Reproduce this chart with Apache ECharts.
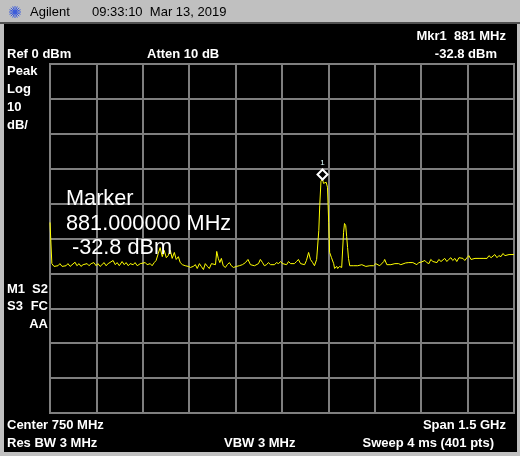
<!DOCTYPE html>
<html>
<head>
<meta charset="utf-8">
<title>Agilent spectrum</title>
<script src="https://cdn.jsdelivr.net/npm/echarts@6/dist/echarts.min.js"></script>
<style>
  html, body { margin: 0; padding: 0; background: #000; }
  #main { width: 520px; height: 456px; }
</style>
</head>
<body>
<div id="main"></div>
<script>
// trace: frequency (MHz) and level (dBm)
var freqMHz = [
  0, 6, 13, 19, 26, 32, 39, 45, 52, 58,
  65, 71, 81, 87, 94, 100, 107, 113, 120, 126,
  133, 142, 149, 155, 162, 168, 175, 181, 188, 194,
  204, 211, 217, 224, 233, 240, 246, 253, 259, 269,
  275, 282, 292, 298, 308, 314, 324, 330, 337, 343,
  350, 356, 363, 369, 376, 382, 389, 395, 402, 408,
  415, 421, 428, 437, 447, 454, 463, 470, 476, 483,
  489, 496, 502, 509, 515, 522, 528, 535, 539, 544,
  549, 554, 560, 567, 573, 580, 586, 593, 603, 612,
  622, 632, 640, 648, 654, 661, 667, 674, 680, 687,
  693, 700, 706, 713, 719, 726, 732, 739, 745, 752,
  758, 765, 771, 778, 784, 790, 797, 803, 810, 816,
  823, 829, 836, 842, 849, 855, 862, 865, 869, 872,
  876, 881, 884, 888, 893, 897, 901, 904, 910, 917,
  920, 927, 930, 936, 943, 946, 949, 952, 956, 959,
  962, 965, 969, 975, 982, 988, 995, 1001, 1008, 1014,
  1021, 1027, 1034, 1040, 1046, 1053, 1059, 1066, 1072, 1079,
  1082, 1089, 1095, 1102, 1108, 1115, 1121, 1127, 1134, 1140,
  1150, 1160, 1166, 1173, 1179, 1186, 1192, 1199, 1205, 1212,
  1218, 1225, 1231, 1238, 1244, 1251, 1257, 1264, 1270, 1276,
  1283, 1289, 1296, 1302, 1309, 1315, 1322, 1328, 1335, 1341,
  1348, 1354, 1361, 1367, 1374, 1380, 1387, 1393, 1400, 1406,
  1413, 1419, 1426, 1432, 1438, 1445, 1451, 1458, 1464, 1471,
  1477, 1484, 1490, 1500
];
var levelDbm = [
  -45.4, -57.2, -58.0, -57.5, -57.8, -57.2, -58.0, -57.5, -57.8, -57.2,
  -58.0, -57.5, -56.8, -57.8, -57.2, -58.0, -57.5, -57.8, -57.2, -57.8,
  -57.2, -56.9, -57.8, -57.2, -58.0, -57.5, -56.9, -57.8, -57.2, -57.5,
  -56.3, -57.5, -56.9, -57.8, -56.6, -57.5, -56.9, -57.8, -57.2, -57.5,
  -56.9, -57.8, -57.2, -57.5, -56.9, -57.5, -57.2, -57.8, -56.9, -56.3,
  -54.3, -52.6, -55.2, -53.4, -55.5, -54.9, -53.4, -55.7, -54.0, -56.0,
  -55.2, -56.9, -57.5, -57.8, -58.0, -58.3, -58.0, -57.5, -58.6, -57.2,
  -58.0, -58.9, -57.2, -58.0, -58.6, -57.2, -56.9, -57.5, -53.7, -55.7,
  -56.9, -55.7, -57.8, -58.3, -57.5, -56.9, -57.8, -58.3, -58.0, -57.8,
  -57.5, -56.9, -56.0, -57.5, -57.2, -57.8, -58.0, -57.2, -56.0, -56.9,
  -57.8, -57.5, -56.9, -57.5, -57.2, -57.5, -56.9, -57.2, -56.6, -57.2,
  -56.9, -57.5, -56.6, -57.2, -56.9, -57.2, -56.6, -56.0, -57.2, -56.9,
  -57.5, -56.3, -54.0, -56.0, -56.9, -57.8, -56.0, -55.5, -47.7, -40.5,
  -33.6, -32.8, -34.2, -34.5, -33.9, -35.3, -45.4, -54.0, -55.5, -57.2,
  -58.6, -58.0, -58.6, -58.0, -58.3, -58.0, -48.3, -45.7, -46.3, -49.4,
  -52.6, -55.7, -57.8, -58.0, -57.8, -58.0, -57.8, -58.0, -57.5, -57.8,
  -58.0, -57.5, -57.8, -58.0, -57.8, -57.2, -57.5, -57.8, -57.5, -56.6,
  -56.0, -57.5, -57.8, -57.5, -57.8, -57.2, -57.5, -57.2, -57.5, -57.2,
  -57.0, -56.9, -57.2, -56.9, -57.0, -57.5, -56.9, -56.8, -56.9, -56.3,
  -56.9, -57.2, -56.0, -56.6, -56.3, -56.9, -56.0, -56.6, -56.3, -55.7,
  -56.6, -56.0, -55.5, -56.3, -55.7, -56.6, -55.5, -56.0, -55.7, -56.3,
  -55.5, -54.9, -56.0, -55.5, -55.7, -56.0, -55.7, -55.5, -55.7, -55.2,
  -55.7, -54.9, -55.5, -55.2, -54.6, -55.5, -54.9, -55.2, -54.3, -54.9,
  -54.6, -54.6, -54.6, -54.6
];
var markerFreq = 881;
var markerLevel = -32.8;
var markerName = '1';

// screen settings: 0..1500 MHz, ref 0 dBm, 10 dB/div
var startMHz = 0, stopMHz = 1500, freqDiv = 150;
var refDbm = 0, bottomDbm = -100, dbDiv = 10;

var chart = echarts.init(document.getElementById('main'));
var trace = freqMHz.map(function (f, i) { return [f, levelDbm[i]]; });

var bold = 'bold 13px "Liberation Sans", Arial, sans-serif';
var big = '21.7px "Liberation Sans", Arial, sans-serif';
var thin = '13px "Liberation Sans", Arial, sans-serif';

function label(text, x, y, extra) {
  var st = { text: text, x: x, y: y, fill: '#ffffff', font: bold, verticalAlign: 'middle' };
  for (var k in extra) st[k] = extra[k];
  return { type: 'text', z: 100, silent: true, style: st };
}

// agilent spark logo
var logo = [];
for (var a = 0; a < 8; a++) {
  var ang = a * Math.PI / 8;
  logo.push({
    type: 'line', z: 100, silent: true,
    shape: { x1: 15 - 6 * Math.cos(ang), y1: 12 - 6 * Math.sin(ang), x2: 15 + 6 * Math.cos(ang), y2: 12 + 6 * Math.sin(ang) },
    style: { stroke: '#3b5bdb', lineWidth: 1 }
  });
}

var graphics = [
  { type: 'rect', z: 90, silent: true, shape: { x: 0, y: 0, width: 520, height: 22 }, style: { fill: '#c0c0c0' } },
  { type: 'rect', z: 90, silent: true, shape: { x: 0, y: 22, width: 520, height: 2 }, style: { fill: '#505050' } },
  { type: 'rect', z: 90, silent: true, shape: { x: 0, y: 24, width: 4, height: 432 }, style: { fill: '#c0c0c0' } },
  { type: 'rect', z: 90, silent: true, shape: { x: 517, y: 24, width: 3, height: 432 }, style: { fill: '#c0c0c0' } },
  { type: 'rect', z: 90, silent: true, shape: { x: 0, y: 452, width: 520, height: 4 }, style: { fill: '#c0c0c0' } },
  label('Agilent', 30, 12.5, { fill: '#000000', font: thin }),
  label('09:33:10  Mar 13, 2019', 92, 12.5, { fill: '#000000', font: thin }),
  label('Mkr1  881 MHz', 506, 36, { align: 'right' }),
  label('Ref 0 dBm', 7, 54),
  label('Atten 10 dB', 147, 54),
  label('-32.8 dBm', 497, 54, { align: 'right' }),
  label('Peak', 7, 71),
  label('Log', 7, 89.5),
  label('10', 7, 107),
  label('dB/', 7, 125),
  label('M1', 7, 289),
  label('S2', 48, 289, { align: 'right' }),
  label('S3', 7, 306),
  label('FC', 48, 306, { align: 'right' }),
  label('AA', 48, 324, { align: 'right' }),
  label('Center 750 MHz', 7, 425),
  label('Span 1.5 GHz', 506, 425, { align: 'right' }),
  label('Res BW 3 MHz', 7, 443.5),
  label('VBW 3 MHz', 224, 443.5),
  label('Sweep 4 ms (401 pts)', 494, 443.5, { align: 'right' }),
  label('Marker', 66, 199, { font: big }),
  label('881.000000 MHz', 66, 224, { font: big }),
  label('-32.8 dBm', 72, 248, { font: big })
].concat(logo);

var gridLine = { show: true, lineStyle: { color: '#7f7f7f', width: 2 } };

chart.setOption({
  backgroundColor: '#000000',
  animation: false,
  grid: {
    left: 50, top: 64, right: 6, bottom: 43,
    show: true, backgroundColor: '#000000', borderColor: '#7f7f7f', borderWidth: 2
  },
  xAxis: {
    type: 'value', min: startMHz, max: stopMHz, interval: freqDiv,
    axisLine: { show: false }, axisTick: { show: false }, axisLabel: { show: false },
    splitLine: gridLine
  },
  yAxis: {
    type: 'value', min: bottomDbm, max: refDbm, interval: dbDiv,
    axisLine: { show: false }, axisTick: { show: false }, axisLabel: { show: false },
    splitLine: gridLine
  },
  graphic: graphics,
  series: [{
    type: 'line',
    data: trace,
    symbol: 'none',
    lineStyle: { color: '#ffff00', width: 1 },
    markPoint: {
      symbol: 'diamond',
      symbolSize: [10, 10],
      symbolOffset: [0, -4],
      itemStyle: { color: '#000000', borderColor: '#ffffff', borderWidth: 2 },
      label: { show: true, position: 'top', distance: 2, formatter: markerName, color: '#dfffff', fontSize: 8 },
      data: [{ coord: [markerFreq, markerLevel] }]
    }
  }]
});
</script>
</body>
</html>
